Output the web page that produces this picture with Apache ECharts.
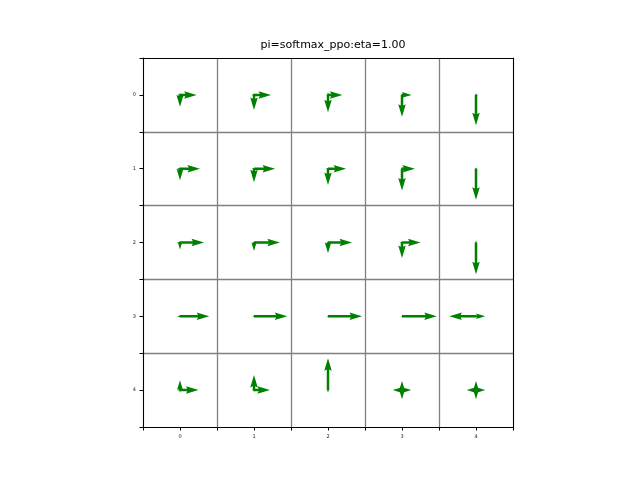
<!DOCTYPE html>
<html lang="en">

<head>
    <meta charset="UTF-8">
    <title>pi=softmax_ppo:eta=1.00</title>
    <style>
        *{
            padding:0;
            margin:0;
        }
    </style>
    <script type="text/javascript" src="https://cdn.jsdelivr.net/npm/echarts@6/dist/echarts.min.js"></script>
</head>

<body>
    <div id="main" style="width: 640px;height:480px;"></div>
    <script type="text/javascript">
        // policy probabilities per state, rows = y (0 at top), columns = x
        var probUp = [
            [0.06, 0.06, 0.08, 0.06, 0.05],
            [0.05, 0.03, 0.04, 0.06, 0.04],
            [0.04, 0.03, 0.03, 0.03, 0.06],
            [0.04, 0.03, 0.03, 0.02, 0.02],
            [0.27, 0.41, 0.86, 0.25, 0.25]
        ];
        var probDown = [
            [0.32, 0.41, 0.47, 0.59, 0.82],
            [0.31, 0.37, 0.44, 0.59, 0.84],
            [0.19, 0.23, 0.29, 0.42, 0.86],
            [0.04, 0.03, 0.03, 0.02, 0.02],
            [0.07, 0.06, 0.07, 0.25, 0.25]
        ];
        var probLeft = [
            [0.07, 0.07, 0.06, 0.03, 0.03],
            [0.08, 0.06, 0.06, 0.03, 0.03],
            [0.08, 0.05, 0.05, 0.06, 0.03],
            [0.08, 0.04, 0.03, 0.03, 0.72],
            [0.07, 0.06, 0.03, 0.25, 0.25]
        ];
        var probRight = [
            [0.45, 0.46, 0.39, 0.26, 0.06],
            [0.54, 0.57, 0.49, 0.35, 0.04],
            [0.65, 0.70, 0.65, 0.50, 0.03],
            [0.79, 0.90, 0.92, 0.94, 0.25],
            [0.50, 0.43, 0.03, 0.25, 0.25]
        ];
        var tickLabels = ["0", "1", "2", "3", "4"];
        var titleText = "pi=softmax_ppo:eta=1.00";

        // quiver scale: data units per unit probability
        var arrowScale = 0.5;

        // build arrow list [x, y, dx, dy]
        var arrows = [];
        for (var y = 0; y < 5; y++) {
            for (var x = 0; x < 5; x++) {
                arrows.push([x, y, 0, -probUp[y][x] * arrowScale]);
                arrows.push([x, y, 0, probDown[y][x] * arrowScale]);
                arrows.push([x, y, -probLeft[y][x] * arrowScale, 0]);
                arrows.push([x, y, probRight[y][x] * arrowScale, 0]);
            }
        }

        // matplotlib-like quiver arrow shape
        var shaftW = 2.5;
        function renderArrow(params, api) {
            var x = api.value(0), y = api.value(1);
            var p0 = api.coord([x, y]);
            var p1 = api.coord([x + api.value(2), y + api.value(3)]);
            var vx = p1[0] - p0[0], vy = p1[1] - p0[1];
            var len = Math.sqrt(vx * vx + vy * vy) / shaftW; // in shaft widths
            if (len < 0.3) return;
            var pts;
            var minsh = 5;
            if (len >= minsh) {
                pts = [[0, -0.5], [len - 4.5, -0.5], [len - 5, -1.5], [len, 0],
                       [len - 5, 1.5], [len - 4.5, 0.5], [0, 0.5]];
            } else {
                var s = len / minsh;
                pts = [[0, -0.5], [0.5, -0.5], [0, -1.5], [5, 0],
                       [0, 1.5], [0.5, 0.5], [0, 0.5]].map(function (q) {
                    return [q[0] * s, q[1] * s];
                });
            }
            var ang = Math.atan2(vy, vx);
            var c = Math.cos(ang), sn = Math.sin(ang);
            var poly = pts.map(function (q) {
                var a = q[0] * shaftW, b = q[1] * shaftW;
                return [p0[0] + a * c - b * sn, p0[1] + a * sn + b * c];
            });
            return {
                type: 'polygon',
                shape: { points: poly },
                style: { fill: '#008000', stroke: null }
            };
        }

        var myChart = echarts.init(document.getElementById('main'));

        function intLabel(v) {
            var i = Math.round(v);
            if (Math.abs(v - i) > 1e-6) return '';
            return tickLabels[i] || '';
        }

        var option = {
            backgroundColor: '#fff',
            animation: false,
            title: {
                text: titleText,
                left: 328,
                top: 35,
                textAlign: 'center',
                textStyle: {
                    fontFamily: 'DejaVu Sans',
                    fontSize: 11,
                    fontWeight: 'normal',
                    color: '#000'
                }
            },
            grid: {
                left: 143,
                right: 127,
                top: 58,
                bottom: 53
            },
            xAxis: [{
                // visible axis: ticks + labels
                type: 'value',
                position: 'bottom',
                min: -0.5,
                max: 4.5,
                interval: 0.5,
                axisLine: { show: true, onZero: false, lineStyle: { color: '#000', width: 1.1 } },
                axisTick: { show: true, length: 3.5, lineStyle: { color: '#000', width: 1 } },
                axisLabel: {
                    formatter: intLabel,
                    fontFamily: 'DejaVu Sans',
                    fontSize: 5,
                    color: '#222',
                    margin: 7
                },
                splitLine: { show: false }
            }, {
                // cell boundaries (shifted by half a cell)
                type: 'value',
                position: 'top',
                min: 0,
                max: 5,
                interval: 1,
                axisLine: { show: true, onZero: false, lineStyle: { color: '#000', width: 1.1 } },
                axisTick: { show: false },
                axisLabel: { show: false },
                splitLine: {
                    show: true,
                    showMinLine: false,
                    showMaxLine: false,
                    lineStyle: { color: '#808080', width: 1.3 }
                }
            }],
            yAxis: [{
                type: 'value',
                position: 'left',
                inverse: true,
                min: -0.5,
                max: 4.5,
                interval: 0.5,
                axisLine: { show: true, onZero: false, lineStyle: { color: '#000', width: 1.1 } },
                axisTick: { show: true, length: 3.5, lineStyle: { color: '#000', width: 1 } },
                axisLabel: {
                    formatter: intLabel,
                    fontFamily: 'DejaVu Sans',
                    fontSize: 5,
                    color: '#222',
                    margin: 7
                },
                splitLine: { show: false }
            }, {
                type: 'value',
                position: 'right',
                inverse: true,
                min: 0,
                max: 5,
                interval: 1,
                axisLine: { show: true, onZero: false, lineStyle: { color: '#000', width: 1.1 } },
                axisTick: { show: false },
                axisLabel: { show: false },
                splitLine: {
                    show: true,
                    showMinLine: false,
                    showMaxLine: false,
                    lineStyle: { color: '#808080', width: 1.3 }
                }
            }],
            series: [{
                type: 'custom',
                xAxisIndex: 0,
                yAxisIndex: 0,
                renderItem: renderArrow,
                data: arrows,
                clip: false,
                z: 5
            }]
        };

        myChart.setOption(option);
    </script>
</body>

</html>
